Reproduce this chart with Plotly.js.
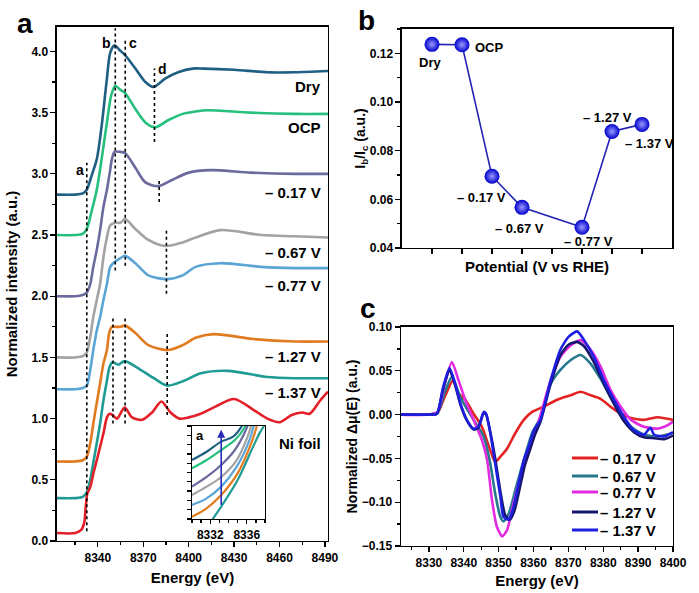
<!DOCTYPE html>
<html>
<head>
<meta charset="utf-8">
<script src="https://cdn.plot.ly/plotly-3.0.1.min.js"></script>
<style>html,body{margin:0;padding:0;background:#fff;}#plot{width:699px;height:593px;}</style>
</head>
<body>
<div id="plot"></div>
<script>
// ---------- Panel a: XANES spectra (offset) ----------
const seriesNames = ['Dry', 'OCP', '– 0.17 V', '– 0.67 V', '– 0.77 V', '– 1.27 V', '– 1.37 V', 'Ni foil'];
const colors = ['#1f5f84', '#25c07c', '#6b6a9e', '#a3a3a3', '#5aa4d6', '#e07b1f', '#1f9b93', '#e3202a'];

const eDry = [8313, 8325, 8330, 8332.7, 8336, 8339.3, 8342.6, 8346, 8348.2, 8351, 8354.5, 8358, 8364.8, 8371.4, 8376.7, 8384.7, 8393, 8402.6, 8410, 8430, 8452, 8470, 8492];
const iDry = [2.83, 2.83, 2.84, 2.87, 2.99, 3.12, 3.40, 3.78, 3.99, 4.05, 4.01, 3.97, 3.86, 3.75, 3.71, 3.78, 3.83, 3.86, 3.86, 3.85, 3.83, 3.83, 3.84];

const eOCP = [8313, 8325, 8330, 8332.7, 8336, 8339.3, 8342.6, 8346, 8348.8, 8351.5, 8354.5, 8358, 8364.8, 8371.4, 8378, 8386.7, 8396, 8404.6, 8412.5, 8441, 8470, 8492];
const iOCP = [2.50, 2.50, 2.51, 2.55, 2.70, 2.87, 3.13, 3.42, 3.64, 3.72, 3.69, 3.66, 3.53, 3.42, 3.38, 3.44, 3.49, 3.51, 3.52, 3.50, 3.49, 3.49];

const eV017 = [8313, 8325, 8330, 8332.7, 8335, 8337, 8339.3, 8341.5, 8343.7, 8346, 8348, 8349.3, 8351, 8354.5, 8358, 8364.8, 8371.4, 8380, 8389, 8400, 8414.5, 8441, 8470, 8492];
const iV017 = [2.00, 2.00, 2.01, 2.03, 2.10, 2.24, 2.38, 2.54, 2.73, 2.87, 3.02, 3.12, 3.18, 3.18, 3.17, 3.05, 2.93, 2.90, 2.95, 3.01, 3.03, 3.01, 3.00, 3.00];

const eV067 = [8313, 8325, 8330, 8332.7, 8335, 8337, 8339.3, 8341.5, 8343.7, 8346, 8348.2, 8351.5, 8354.8, 8358, 8364.8, 8373.4, 8384.7, 8396, 8404.6, 8421, 8448, 8470, 8492];
const iV067 = [1.50, 1.50, 1.51, 1.54, 1.67, 1.83, 1.97, 2.10, 2.32, 2.48, 2.58, 2.60, 2.60, 2.63, 2.55, 2.46, 2.41, 2.44, 2.48, 2.54, 2.50, 2.49, 2.48];

const eV077 = [8313, 8325, 8330, 8332.7, 8335, 8337, 8339.3, 8341.5, 8343.7, 8346, 8348.2, 8351, 8354.8, 8358, 8364.8, 8373.4, 8386, 8396, 8404.6, 8421, 8448, 8470, 8492];
const iV077 = [1.24, 1.24, 1.25, 1.27, 1.40, 1.56, 1.72, 1.83, 1.97, 2.10, 2.24, 2.28, 2.31, 2.33, 2.27, 2.17, 2.14, 2.17, 2.24, 2.27, 2.24, 2.23, 2.23];

const eV127 = [8313, 8325, 8330, 8332.7, 8335, 8337, 8339.3, 8341.5, 8343.7, 8346, 8347.5, 8349.3, 8351, 8354.8, 8358, 8364.8, 8373.4, 8386, 8396, 8404.6, 8416.5, 8443, 8470, 8492];
const iV127 = [0.65, 0.65, 0.66, 0.69, 0.80, 0.96, 1.13, 1.29, 1.45, 1.56, 1.70, 1.75, 1.75, 1.75, 1.76, 1.70, 1.60, 1.56, 1.60, 1.66, 1.69, 1.65, 1.63, 1.63];

const eV137 = [8313, 8325, 8330, 8332.7, 8335, 8337, 8339.3, 8341.5, 8343.7, 8346, 8347.7, 8349.7, 8353.5, 8357.7, 8368, 8377, 8386, 8397, 8408, 8426, 8452, 8470, 8492];
const iV137 = [0.35, 0.35, 0.36, 0.40, 0.50, 0.64, 0.80, 0.96, 1.15, 1.31, 1.42, 1.46, 1.44, 1.47, 1.40, 1.33, 1.27, 1.31, 1.37, 1.39, 1.34, 1.33, 1.33];

const eNi = [8313, 8325, 8329, 8331, 8332, 8333.1, 8335, 8337, 8339.3, 8341.5, 8343.7, 8346, 8347.8, 8349.7, 8352.6, 8357.7, 8362.6, 8369.2, 8375.8, 8382, 8388, 8394, 8400, 8408, 8418, 8430, 8443, 8452, 8460, 8468, 8475, 8480, 8487, 8492];
const iNi = [0.065, 0.065, 0.09, 0.15, 0.28, 0.39, 0.44, 0.55, 0.66, 0.77, 0.88, 1.01, 1.04, 1.03, 1.00, 1.09, 1.01, 0.99, 1.05, 1.14, 1.05, 1.00, 1.01, 1.04, 1.10, 1.16, 1.07, 1.00, 0.97, 1.03, 1.05, 1.04, 1.15, 1.22];

// right-hand labels of panel a (y positions in intensity units)
const labelY = [3.71, 3.38, 2.85, 2.36, 2.09, 1.51, 1.21, 0.80];

// dashed guide lines (a, b, c, d features)
const dashE  = [8332.7, 8351.5, 8358.1, 8377.4, 8380.5, 8385.3, 8350.0, 8358.0, 8385.8];
const dashLo = [0.08, 2.21, 2.25, 3.26, 2.77, 2.02, 0.96, 0.96, 1.03];
const dashHi = [3.09, 4.19, 4.10, 3.86, 2.95, 2.55, 1.82, 1.82, 1.70];
const featLabels = ['a', 'b', 'c', 'd'];
const featE = [8328.3, 8345.5, 8363.4, 8382.7];
const featY = [3.03, 4.07, 4.07, 3.86];

// ---------- inset (pre-edge region) ----------
const insE = [
  [8330, 8331.6, 8333.2, 8334.5, 8335.4, 8336],
  [8330, 8331.6, 8333.2, 8334.7, 8335.8, 8336.3],
  [8330, 8331.6, 8333.2, 8334.7, 8335.9, 8336.4],
  [8330, 8331.6, 8333.2, 8334.9, 8336.1, 8336.6],
  [8330, 8331.6, 8333.2, 8334.9, 8336.3, 8336.8],
  [8330, 8331.6, 8333.2, 8335.0, 8336.5, 8337.1],
  [8332.0, 8332.2, 8333.2, 8335.0, 8336.7, 8337.4, 8337.9]
];
const insV = [
  [0.634, 0.723, 0.832, 0.885, 0.99, 1.1],
  [0.545, 0.634, 0.742, 0.849, 0.99, 1.1],
  [0.348, 0.452, 0.581, 0.742, 0.957, 1.1],
  [0.258, 0.348, 0.452, 0.634, 0.885, 1.05],
  [0.151, 0.222, 0.348, 0.563, 0.849, 1.02],
  [0.025, 0.115, 0.258, 0.491, 0.815, 1.0],
  [-0.05, -0.011, 0.133, 0.419, 0.778, 0.921, 1.0]
];
const arrowE = 8333.2, arrowV0 = 0.06, arrowV1 = 0.96;

// ---------- Panel b: Ib/Ic ----------
const bX = [1, 2, 3, 4, 6, 7, 8];
const bY = [0.1237, 0.1235, 0.0695, 0.0567, 0.0485, 0.0879, 0.0908];
const bLabels = ['Dry', 'OCP', '– 0.17 V', '– 0.67 V', '– 0.77 V', '– 1.27 V', '– 1.37 V'];

// ---------- Panel c: difference spectra ----------
const cNames = ['– 0.17 V', '– 0.67 V', '– 0.77 V', '– 1.27 V', '– 1.37 V'];
const cColors = ['#e32222', '#26788c', '#e22be0', '#16166e', '#1e1ee0'];
const cE017 = [8322, 8330, 8332.5, 8334.5, 8336.9, 8338.5, 8340.4, 8342.8, 8345.2, 8347.6, 8349, 8350.5, 8352.4, 8354.8, 8357.2, 8359.6, 8362.9, 8366.8, 8370.6, 8373.5, 8376.4, 8379.2, 8382.1, 8385, 8387.9, 8391.7, 8395.6, 8400];
const cV017 = [0, 0, 0.002, 0.02, 0.039, 0.024, 0.017, 0.001, -0.014, -0.041, -0.054, -0.048, -0.039, -0.021, -0.006, 0.003, 0.009, 0.017, 0.022, 0.026, 0.022, 0.018, 0.009, 0.001, -0.004, -0.006, -0.003, -0.006];
const cE067 = [8322, 8330, 8332.5, 8334.5, 8336.6, 8339, 8342.8, 8345.7, 8347.6, 8349, 8350.5, 8351.4, 8352.9, 8354.8, 8357.2, 8359.6, 8362, 8364.9, 8367.7, 8370.6, 8373.5, 8376.4, 8379.2, 8382.1, 8385, 8387.9, 8391.7, 8395.6, 8400];
const cV067 = [0, 0, 0.002, 0.025, 0.043, 0.02, -0.006, -0.025, -0.056, -0.09, -0.117, -0.122, -0.113, -0.086, -0.052, -0.021, -0.003, 0.035, 0.051, 0.062, 0.068, 0.058, 0.041, 0.02, 0.001, -0.014, -0.023, -0.025, -0.021];
const cE077 = [8322, 8330, 8332.5, 8334.5, 8336.6, 8338.5, 8340.4, 8342.8, 8345.2, 8346.7, 8348.1, 8349.5, 8351, 8352.4, 8353.8, 8355.7, 8358.2, 8361, 8364.9, 8367.7, 8370.6, 8373.5, 8376.4, 8379.2, 8382.1, 8385, 8387.9, 8391.7, 8395.6, 8398.5, 8400];
const cV077 = [0, 0, 0.003, 0.035, 0.060, 0.039, 0.017, -0.006, -0.029, -0.052, -0.098, -0.128, -0.139, -0.132, -0.109, -0.079, -0.044, -0.014, 0.039, 0.066, 0.079, 0.085, 0.074, 0.055, 0.028, 0.009, -0.006, -0.014, -0.016, -0.012, -0.008];
const cE127 = [8322, 8330, 8332.3, 8334, 8335.9, 8337.5, 8339, 8340.9, 8342.8, 8344.2, 8345.7, 8346.4, 8347.6, 8349, 8350.5, 8351.9, 8353.2, 8354.5, 8356, 8357.5, 8359, 8360.5, 8362, 8364.9, 8367.7, 8370.1, 8372.5, 8374.5, 8377.3, 8380.2, 8383.1, 8386, 8388.8, 8391.7, 8394.6, 8397.5, 8400];
const cV127 = [0, 0, 0.001, 0.028, 0.05, 0.034, 0.012, -0.007, -0.017, -0.015, 0.002, 0.0, -0.02, -0.05, -0.088, -0.115, -0.12, -0.11, -0.085, -0.058, -0.04, -0.022, -0.008, 0.035, 0.068, 0.08, 0.083, 0.078, 0.06, 0.035, 0.012, -0.008, -0.02, -0.026, -0.027, -0.028, -0.024];
const cE137 = [8322, 8330, 8332.3, 8334, 8335.9, 8337.5, 8339, 8340.9, 8342.8, 8344.2, 8345.7, 8346.4, 8347.6, 8349, 8350.5, 8351.4, 8352.9, 8354.3, 8355.7, 8357.2, 8358.6, 8360.1, 8362, 8364.9, 8367.7, 8370.1, 8372.5, 8374.5, 8377.3, 8380.2, 8383.1, 8386, 8388.8, 8391.7, 8393.5, 8394.6, 8397.5, 8400];
const cV137 = [0, 0, 0.001, 0.03, 0.053, 0.036, 0.013, -0.006, -0.016, -0.014, 0.003, 0.001, -0.021, -0.056, -0.094, -0.117, -0.12, -0.105, -0.079, -0.052, -0.037, -0.018, -0.006, 0.039, 0.074, 0.089, 0.095, 0.085, 0.066, 0.039, 0.017, -0.003, -0.018, -0.023, -0.015, -0.023, -0.025, -0.02];

// ---------------------------------------------------
const FONT = 'Liberation Sans, Arial, sans-serif';
const bold = (size, color) => ({family: FONT, size: size, color: color || '#000', weight: 'bold'});

const aE = [eDry, eOCP, eV017, eV067, eV077, eV127, eV137, eNi];
const aI = [iDry, iOCP, iV017, iV067, iV077, iV127, iV137, iNi];
const traces = [];
aE.forEach((e, k) => traces.push({
  x: e, y: aI[k], type: 'scatter', mode: 'lines', xaxis: 'x', yaxis: 'y',
  line: {color: colors[k], width: 2.6, shape: 'spline', smoothing: 0.8},
  showlegend: false, hoverinfo: 'skip'
}));
dashE.forEach((e, k) => traces.push({
  x: [e, e], y: [dashLo[k], dashHi[k]], type: 'scatter', mode: 'lines', xaxis: 'x', yaxis: 'y',
  line: {color: '#000', width: 1.6, dash: '3px,3px'}, showlegend: false, hoverinfo: 'skip'
}));
insE.forEach((e, k) => traces.push({
  x: e, y: insV[k], type: 'scatter', mode: 'lines', xaxis: 'x4', yaxis: 'y4',
  line: {color: colors[k], width: 2.2, shape: 'spline'}, showlegend: false, hoverinfo: 'skip'
}));
traces.push({
  x: bX, y: bY, type: 'scatter', mode: 'lines+markers', xaxis: 'x2', yaxis: 'y2',
  line: {color: '#2323b5', width: 1.6},
  marker: {size: 15, color: '#0000cc', gradient: {type: 'radial', color: '#9a9aff'}, line: {width: 0}},
  showlegend: false, hoverinfo: 'skip'
});
const cEs = [cE017, cE067, cE077, cE127, cE137];
const cVs = [cV017, cV067, cV077, cV127, cV137];
cEs.forEach((e, k) => traces.push({
  x: e, y: cVs[k], type: 'scatter', mode: 'lines', xaxis: 'x3', yaxis: 'y3', name: cNames[k],
  line: {color: cColors[k], width: 2.6, shape: 'spline', smoothing: 0.6}, showlegend: false, hoverinfo: 'skip'
}));

const annotations = [];
const shapes = [];
seriesNames.forEach((n, k) => annotations.push({
  xref: 'x', yref: 'y', x: 8489, y: labelY[k], text: n, showarrow: false,
  xanchor: 'right', yanchor: 'middle', font: bold(15)
}));
featLabels.forEach((t, k) => annotations.push({
  xref: 'x', yref: 'y', x: featE[k], y: featY[k], text: t, showarrow: false,
  xanchor: 'center', yanchor: 'middle', font: bold(14)
}));
annotations.push({xref: 'x4', yref: 'y4', x: 8330.2, y: 0.9, text: 'a', showarrow: false,
  xanchor: 'left', yanchor: 'middle', font: bold(13)});
annotations.push({xref: 'x4', yref: 'y4', x: arrowE, y: arrowV1, ax: arrowE, ay: arrowV0,
  axref: 'x4', ayref: 'y4', text: ' ', showarrow: true, arrowhead: 2, arrowsize: 1,
  arrowwidth: 1.6, arrowcolor: '#2a2ab8'});
const bShift = [[-2, -18], [11, -3], [-11, -21], [-3, -21], [6, -14], [-5, 14], [7, -19]];
const bAnchor = ['center', 'left', 'center', 'center', 'center', 'center', 'center'];
bLabels.forEach((t, k) => annotations.push({
  xref: 'x2', yref: 'y2', x: bX[k], y: bY[k], text: t, showarrow: false,
  xanchor: bAnchor[k], yanchor: 'middle', xshift: bShift[k][0], yshift: bShift[k][1], font: bold(13)
}));
[['a', 0.036, 0.960], ['b', 0.524, 0.966], ['c', 0.527, 0.480]].forEach(p => annotations.push({
  xref: 'paper', yref: 'paper', x: p[1], y: p[2], text: p[0], showarrow: false,
  xanchor: 'center', yanchor: 'middle', font: bold(28)
}));
// hand-placed legend for panel c (paper coordinates)
const legRowY = [458, 476, 492, 512, 530];
cNames.forEach((n, k) => {
  const yp = 1 - legRowY[k] / 593;
  shapes.push({type: 'line', xref: 'paper', yref: 'paper', x0: 572 / 699, x1: 598 / 699, y0: yp, y1: yp,
    line: {color: cColors[k], width: 3}});
  annotations.push({xref: 'paper', yref: 'paper', x: 598 / 699, y: yp, text: n, showarrow: false,
    xanchor: 'left', yanchor: 'middle', font: bold(15)});
});

const axBase = {
  showline: true, linecolor: '#000', linewidth: 1.5, mirror: true, zeroline: false, showgrid: false,
  ticks: 'outside', ticklen: 5, tickwidth: 1.3, tickcolor: '#000', tickfont: bold(12)
};

const layout = {
  width: 699, height: 593, margin: {l: 0, r: 0, t: 0, b: 0},
  paper_bgcolor: '#fff', plot_bgcolor: '#fff', font: {family: FONT, color: '#000'},
  xaxis: Object.assign({}, axBase, {domain: [0.0815, 0.4692], anchor: 'y', range: [8313, 8492],
    tickvals: [8340, 8370, 8400, 8430, 8460, 8490], minor: {dtick: 15, tick0: 8310, ticks: 'outside', ticklen: 3, tickcolor: '#000'},
    title: {text: 'Energy (eV)', font: bold(15), standoff: 8}}),
  yaxis: Object.assign({}, axBase, {domain: [0.0877, 0.9545], anchor: 'x', range: [0, 4.2],
    dtick: 0.5, tickformat: '.1f', minor: {dtick: 0.25, ticks: 'outside', ticklen: 3, tickcolor: '#000'},
    title: {text: 'Normalized intensity (a.u.)', font: bold(15), standoff: 10}}),
  xaxis2: Object.assign({}, axBase, {domain: [0.5751, 0.9614], anchor: 'y2', range: [0, 9],
    tickvals: [1, 2, 3, 4, 5, 6, 7, 8], showticklabels: false,
    title: {text: 'Potential (V vs RHE)', font: bold(15), standoff: 8}}),
  yaxis2: Object.assign({}, axBase, {domain: [0.5818, 0.9511], anchor: 'x2', range: [0.04, 0.13],
    dtick: 0.02, tick0: 0.04, tickformat: '.2f', minor: {dtick: 0.01, ticks: 'outside', ticklen: 3, tickcolor: '#000'},
    title: {text: 'I<sub>b</sub>/I<sub>c</sub> (a.u.)', font: bold(14), standoff: 0}}),
  xaxis3: Object.assign({}, axBase, {domain: [0.5737, 0.9628], anchor: 'y3', range: [8322, 8400],
    dtick: 10, tick0: 8330, minor: {dtick: 5, ticks: 'outside', ticklen: 3, tickcolor: '#000'},
    title: {text: 'Energy (eV)', font: bold(15), standoff: 6}}),
  yaxis3: Object.assign({}, axBase, {domain: [0.0793, 0.4486], anchor: 'x3', range: [-0.15, 0.10],
    dtick: 0.05, tick0: 0, tickformat: '.2f', minor: {dtick: 0.025, ticks: 'outside', ticklen: 3, tickcolor: '#000'},
    title: {text: 'Normalized Δμ(E) (a.u.)', font: bold(14), standoff: 1}}),
  xaxis4: Object.assign({}, axBase, {domain: [0.2747, 0.3791], anchor: 'y4', range: [8330, 8338],
    tickvals: [8332, 8336], ticklen: 4, tickfont: bold(12), minor: {dtick: 1, tick0: 8330, ticks: 'outside', ticklen: 3, tickcolor: '#000'}}),
  yaxis4: Object.assign({}, axBase, {domain: [0.1248, 0.2816], anchor: 'x4', range: [0, 1],
    dtick: 0.1, tick0: 0, ticklen: 4, showticklabels: false}),
  showlegend: false,
  annotations: annotations,
  shapes: shapes
};

Plotly.newPlot('plot', traces, layout, {displayModeBar: false, staticPlot: true});
</script>
</body>
</html>
